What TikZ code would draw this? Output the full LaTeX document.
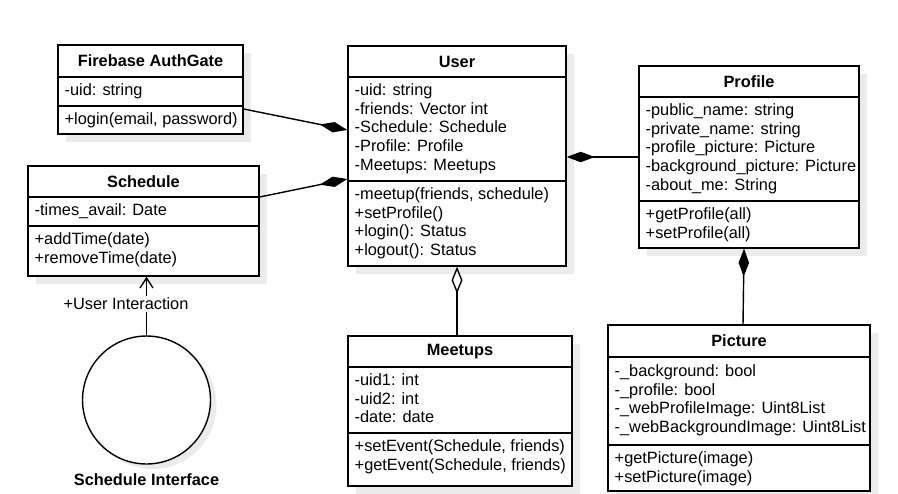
\documentclass[tikz,border=0pt]{standalone}
\usepackage{fontspec}
\setmainfont{Liberation Sans}
\usetikzlibrary{arrows.meta}

\begin{document}
\begin{tikzpicture}[x=0.02cm, y=-0.02cm, line width=0.8pt,
    classbox/.style={draw, fill=white, inner sep=0},
    shade/.style={fill=black!8},
    title/.style={font=\bfseries\fontsize{9.3}{10.6}\selectfont},
    members/.style={anchor=north west, inner sep=0, align=left, font=\fontsize{9.3}{10.6}\selectfont},
    comp/.style={-{Diamond[length=0.56cm, width=0.21cm]}},
    aggr/.style={-{Diamond[open, fill=white, length=0.54cm, width=0.22cm]}},
    uses/.style={-{Straight Barb[length=0.2cm, width=0.26cm]}}]
    \useasboundingbox (0,0) rectangle (898,493);

    % Ombre
    \fill[shade] (66,53) rectangle (251,142);
    \fill[shade] (36,174) rectangle (267,284);
    \fill[shade] (356,54) rectangle (574,274);
    \fill[shade] (647,74) rectangle (867,256);
    \fill[shade] (356,344) rectangle (580,494);
    \fill[shade] (616,333) rectangle (878,499);
    \fill[shade] (152.5,405) circle (64);

    % Firebase AuthGate
    \node[classbox, minimum width=3.7cm, minimum height=1.78cm] (firebase) at (150.5,89.5) {};
    \draw (58,77) -- (243,77);
    \draw (58,106) -- (243,106);
    \node[title] (firebase-name) at (150.5,61) {Firebase AuthGate};
    \node[members] (firebase-attr) at (64,82) {\strut-uid: string};
    \node[members] (firebase-ops) at (64,111) {\strut+login(email, password)};

    % Schedule
    \node[classbox, minimum width=4.62cm, minimum height=2.2cm] (sched) at (143.5,221) {};
    \draw (28,197) -- (259,197);
    \draw (28,226) -- (259,226);
    \node[title] (sched-name) at (143.5,181.5) {Schedule};
    \node[members] (sched-attr) at (34,202) {\strut-times\_avail: Date};
    \node[members] (sched-ops) at (34,231) {\strut+addTime(date)\\+removeTime(date)};

    % User
    \node[classbox, minimum width=4.36cm, minimum height=4.4cm] (user) at (457,156) {};
    \draw (348,77) -- (566,77);
    \draw (348,181) -- (566,181);
    \node[title] (user-name) at (457,61.5) {User};
    \node[members] (user-attr) at (354,82) {\strut-uid: string\\-friends: Vector int\\-Schedule: Schedule\\-Profile: Profile\\-Meetups: Meetups};
    \node[members] (user-ops) at (354,186) {\strut-meetup(friends, schedule)\\+setProfile()\\+login(): Status\\+logout(): Status};

    % Profile
    \node[classbox, minimum width=4.4cm, minimum height=3.64cm] (profile) at (749,157) {};
    \draw (639,97) -- (859,97);
    \draw (639,201) -- (859,201);
    \node[title] (profile-name) at (749,81.5) {Profile};
    \node[members] (profile-attr) at (645,102) {\strut-public\_name: string\\-private\_name: string\\-profile\_picture: Picture\\-background\_picture: Picture\\-about\_me: String};
    \node[members] (profile-ops) at (645,206) {\strut+getProfile(all)\\+setProfile(all)};

    % Meetups
    \node[classbox, minimum width=4.48cm, minimum height=3cm] (meetups) at (460,411) {};
    \draw (348,367) -- (572,367);
    \draw (348,433) -- (572,433);
    \node[title] (meetups-name) at (460,351.5) {Meetups};
    \node[members] (meetups-attr) at (354,372) {\strut-uid1: int\\-uid2: int\\-date: date};
    \node[members] (meetups-ops) at (354,438) {\strut+setEvent(Schedule, friends)\\+getEvent(Schedule, friends)};

    % Picture
    \node[classbox, minimum width=5.24cm, minimum height=3.32cm] (picture) at (739,408) {};
    \draw (608,357) -- (870,357);
    \draw (608,445) -- (870,445);
    \node[title] (picture-name) at (739,341) {Picture};
    \node[members] (picture-attr) at (614,363) {\strut-\_background: bool\\-\_profile: bool\\-\_webProfileImage: Uint8List\\-\_webBackgroundImage: Uint8List};
    \node[members] (picture-ops) at (614,450) {\strut+getPicture(image)\\+setPicture(image)};

    % Interfaccia
    \node[draw, fill=white, circle, minimum size=2.56cm, inner sep=0] (iface) at (146.5,400) {};
    \node[title] (iface-name) at (146.5,480) {Schedule Interface};

    % Relazioni
    \draw[comp] (firebase.east |- 0,109) -- (user.west |- 0,130);
    \draw[comp] (sched.east |- 0,197) -- (user.west |- 0,179);
    \draw[comp] (profile.west |- 0,157) -- (user.east |- 0,157);
    \draw[aggr] (457,0 |- meetups.north) -- (457,0 |- user.south);
    \draw[comp] (743,0 |- picture.north) -- (744,0 |- profile.south);
    \draw[uses] (iface.north) -- (iface.north |- sched.south);
    \node[fill=white, inner sep=1pt, font=\fontsize{9.3}{10.6}\selectfont] (uses-label) at (126,304) {+User Interaction};
\end{tikzpicture}
\end{document}
